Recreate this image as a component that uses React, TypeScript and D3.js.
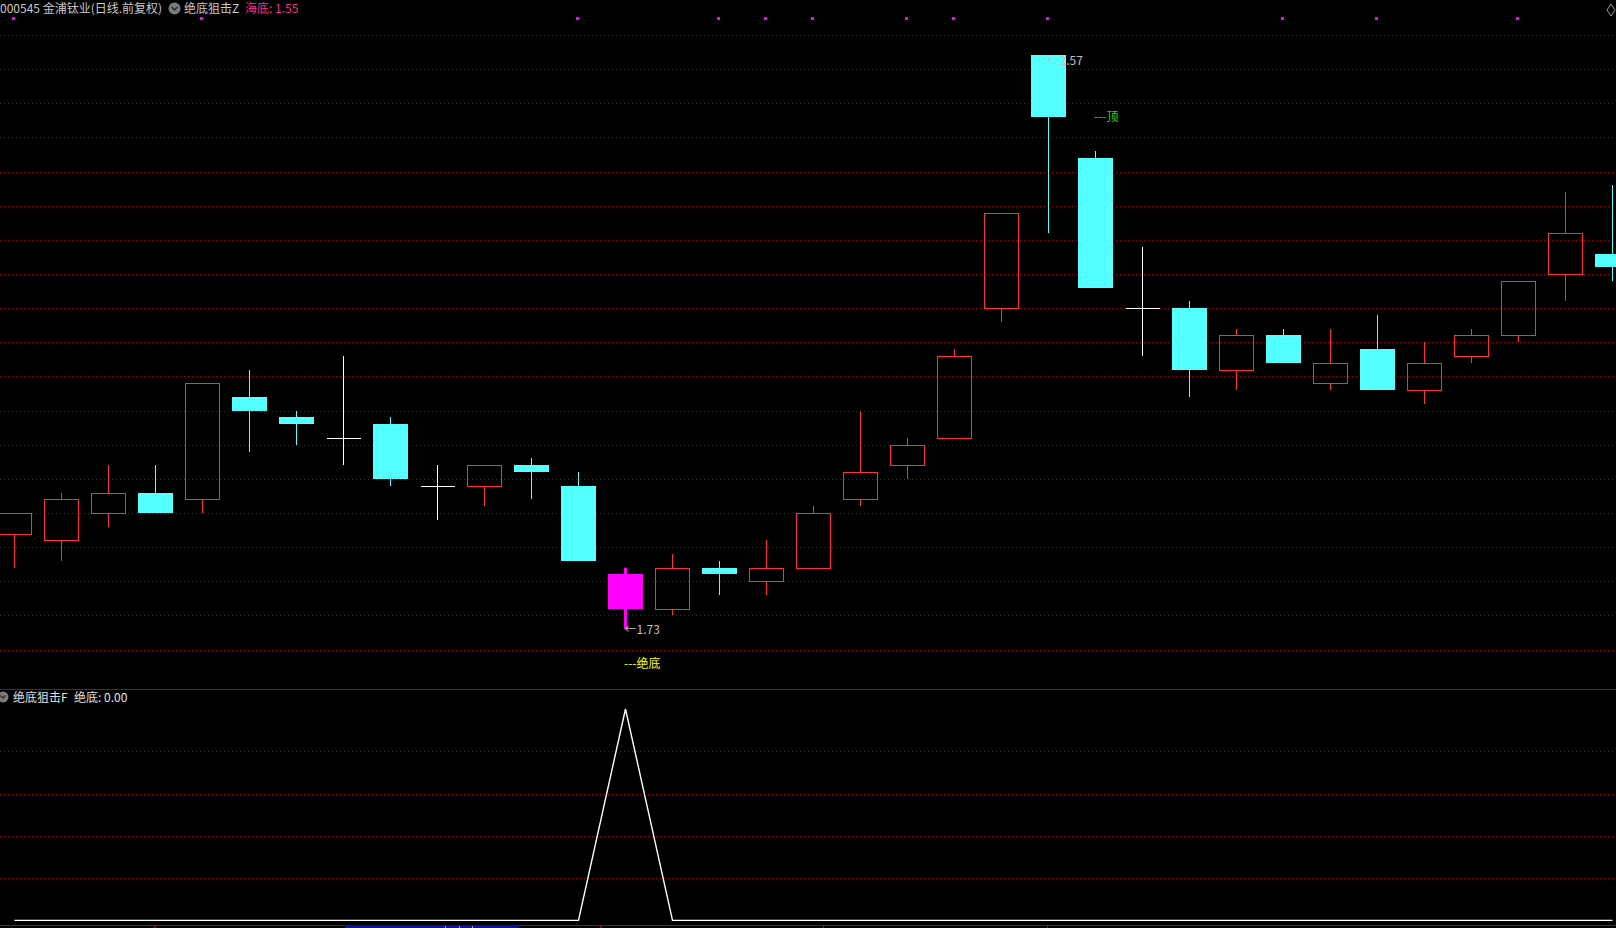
import React from 'react';
import * as d3 from 'd3';

// ---- data ----
const opens = [1.87, 1.86, 1.90, 1.93, 1.92, 2.07, 2.04, 2.01, 2.03, 1.94, 1.94, 1.97, 1.94, 1.81, 1.76, 1.82, 1.80, 1.82, 1.92, 1.97, 2.01, 2.20, 2.57, 2.42, 2.20, 2.20, 2.11, 2.16, 2.09, 2.14, 2.08, 2.13, 2.16, 2.25, 2.28];
const closes = [1.90, 1.92, 1.93, 1.90, 2.09, 2.05, 2.03, 2.01, 1.95, 1.94, 1.97, 1.96, 1.83, 1.76, 1.82, 1.81, 1.82, 1.90, 1.96, 2.00, 2.13, 2.34, 2.48, 2.23, 2.20, 2.11, 2.16, 2.12, 2.12, 2.08, 2.12, 2.16, 2.24, 2.31, 2.26];
const highs = [1.90, 1.93, 1.97, 1.97, 2.09, 2.11, 2.05, 2.13, 2.04, 1.97, 1.97, 1.98, 1.96, 1.82, 1.84, 1.83, 1.86, 1.91, 2.05, 2.01, 2.14, 2.34, 2.57, 2.43, 2.29, 2.21, 2.17, 2.17, 2.17, 2.19, 2.15, 2.17, 2.24, 2.37, 2.38];
const lows = [1.82, 1.83, 1.88, 1.90, 1.90, 1.99, 2.00, 1.97, 1.94, 1.89, 1.91, 1.92, 1.83, 1.73, 1.75, 1.78, 1.78, 1.82, 1.91, 1.95, 2.01, 2.18, 2.31, 2.23, 2.13, 2.07, 2.08, 2.12, 2.08, 2.08, 2.06, 2.12, 2.15, 2.21, 2.24];
const signalIndex = 13;
const markerIndices = [0, 4, 12, 15, 16, 17, 19, 20, 22, 27, 29, 32];
const bottomValues = [0, 0, 0, 0, 0, 0, 0, 0, 0, 0, 0, 0, 0, 1, 0, 0, 0, 0, 0, 0, 0, 0, 0, 0, 0, 0, 0, 0, 0, 0, 0, 0, 0, 0, 0];
const priceMarks = [
  { index: 22, price: 2.57, text: '←2.57', kind: 'high' },
  { index: 13, price: 1.73, text: '←1.73', kind: 'low' },
];
const signalTexts = [
  { index: 23, price: 2.48, text: '---顶', kind: 'top' },
  { index: 13, price: 1.68, text: '---绝底', kind: 'bottom' },
];
const headerMain = ['000545 金浦钛业(日线.前复权)', '绝底狙击Z', '海底: 1.55'];
const headerSub = ['绝底狙击F', '绝底: 0.00'];
const axisTicksX = [154, 600, 823, 1047];

const W = 1616;
const H = 928;
const FONT = '"Noto Sans CJK SC", "Noto Sans", sans-serif';
const RED = '#ff3232';
const CYAN = '#54ffff';
const GRID = '#a00000';

export default function App() {
  const n = opens.length;
  const x = d3.scaleBand<number>().domain(d3.range(n)).range([-9.2, -9.2 + 47 * n]).padding(0);
  const cx = (i: number) => Math.floor((x(i) as number) + x.bandwidth() / 2) + 0.5;
  const y = d3.scaleLinear().domain([1.7, 2.6]).range([649.6, 35]);
  const yb = d3.scaleLinear().domain([0, 1]).range([920.4, 709]);
  const gridMain = d3.range(0, 19).map((k) => 1.7 + k * 0.05);
  const gridSub = [0.2, 0.4, 0.6, 0.8];
  const line = d3.line<number>().x((_, i) => cx(i)).y((v) => yb(v));
  const crisp = (v: number) => Math.round(v) + 0.5;

  const candles = opens.map((o, i) => {
    const c = closes[i];
    const h = highs[i];
    const l = lows[i];
    const top = Math.round(y(Math.max(o, c)));
    const bot = Math.round(y(Math.min(o, c)));
    const X = cx(i);
    if (i === signalIndex) {
      return (
        <g key={i}>
          <line x1={X} x2={X} y1={y(h)} y2={y(l)} stroke="#ff00ff" strokeWidth={3} />
          <rect x={X - 17.5} y={top} width={35} height={bot - top} fill="#ff00ff" />
        </g>
      );
    }
    if (o === c) {
      return (
        <g key={i} shapeRendering="crispEdges">
          <line x1={X} x2={X} y1={y(h)} y2={y(l)} stroke="#ffffff" />
          <line x1={X - 17} x2={X + 17} y1={crisp(y(o))} y2={crisp(y(o))} stroke="#ffffff" />
        </g>
      );
    }
    if (c > o) {
      return (
        <g key={i} shapeRendering="crispEdges" stroke={RED}>
          {h > c && <line x1={X} x2={X} y1={y(h)} y2={top} />}
          {l < o && <line x1={X} x2={X} y1={bot} y2={y(l)} />}
          <rect x={X - 17} y={top + 0.5} width={34} height={bot - top} fill="none" strokeWidth={1.2} />
        </g>
      );
    }
    return (
      <g key={i} shapeRendering="crispEdges">
        <line x1={X} x2={X} y1={y(h)} y2={y(l)} stroke={CYAN} />
        <rect x={X - 17.5} y={top} width={35} height={Math.max(1, bot - top)} fill={CYAN} />
      </g>
    );
  });

  return (
    <svg
      width={W}
      height={H}
      style={{ position: 'absolute', left: 0, top: 0, background: '#000', display: 'block' }}
      fontFamily={FONT}
    >
      <rect x={0} y={0} width={W} height={H} fill="#000" />
      {/* main grid */}
      <g shapeRendering="crispEdges">
        {gridMain.map((p, k) => (
          <line key={k} x1={0} x2={W - 2} y1={crisp(y(p))} y2={crisp(y(p))} stroke={GRID} strokeDasharray="1 3" />
        ))}
      </g>
      {/* header */}
      <text x={0} y={13} fontSize={12} fill="#c8c8c8">{headerMain[0]}</text>
      <circle cx={174.5} cy={8.5} r={6} fill="#7a7a7a" />
      <path d="M171.5 7 L174.5 10 L177.5 7" fill="none" stroke="#2a2a2a" strokeWidth={1.5} />
      <text x={184} y={13} fontSize={12} fill="#c8c8c8">{headerMain[1]}</text>
      <text x={245} y={13} fontSize={12} fill="#ff2a8a">{headerMain[2]}</text>
      {/* top markers */}
      <g shapeRendering="crispEdges">
        {markerIndices.map((i) => (
          <rect key={i} x={Math.floor(cx(i)) - 2} y={17} width={3} height={3} fill="#ff00ff" />
        ))}
      </g>
      <path d="M1611 4 L1615 10 L1611 16 L1607 10 Z" fill="none" stroke="#9a9a9a" strokeWidth={1} />
      {/* candles */}
      <g>{candles}</g>
      {/* price marks */}
      {priceMarks.map((m, k) => (
        <text key={k} x={cx(m.index) - 1} y={y(m.price) + (m.kind === 'high' ? 10 : 5)} fontSize={12} fill="#c0c0c0">
          {m.text}
        </text>
      ))}
      {signalTexts.map((s, k) => (
        <text key={k} x={cx(s.index) - 1.5} y={y(s.price) + 4.5} fontSize={12} fill={s.kind === 'top' ? '#00e000' : '#ffff00'}>
          {s.text}
        </text>
      ))}
      {/* separator */}
      <line x1={0} x2={W} y1={689.5} y2={689.5} stroke="#b00000" shapeRendering="crispEdges" />
      {/* sub header */}
      <circle cx={3} cy={697} r={5.5} fill="#7a7a7a" />
      <path d="M0.5 695.5 L3 698 L5.5 695.5" fill="none" stroke="#2a2a2a" strokeWidth={1.3} />
      <text x={13} y={701.5} fontSize={12} fill="#e0e0e0">{headerSub[0]}</text>
      <text x={74} y={701.5} fontSize={12} fill="#e0e0e0">{headerSub[1]}</text>
      {/* sub grid */}
      <g shapeRendering="crispEdges">
        {gridSub.map((v, k) => (
          <line key={k} x1={0} x2={W - 2} y1={crisp(yb(v))} y2={crisp(yb(v))} stroke={GRID} strokeDasharray="1 3" />
        ))}
      </g>
      <path d={line(bottomValues) || ''} fill="none" stroke="#ffffff" strokeWidth={1.4} />
      {/* x axis */}
      <line x1={0} x2={W} y1={925.5} y2={925.5} stroke="#b00000" shapeRendering="crispEdges" />
      <rect x={345} y={925} width={174} height={3} fill="#1010a0" />
      {[445, 459, 472].map((v) => (
        <line key={v} x1={v + 0.5} x2={v + 0.5} y1={926} y2={928} stroke="#a0a0a0" />
      ))}
      {axisTicksX.map((v) => (
        <line key={v} x1={v + 0.5} x2={v + 0.5} y1={925} y2={928} stroke="#b00000" shapeRendering="crispEdges" />
      ))}
    </svg>
  );
}
